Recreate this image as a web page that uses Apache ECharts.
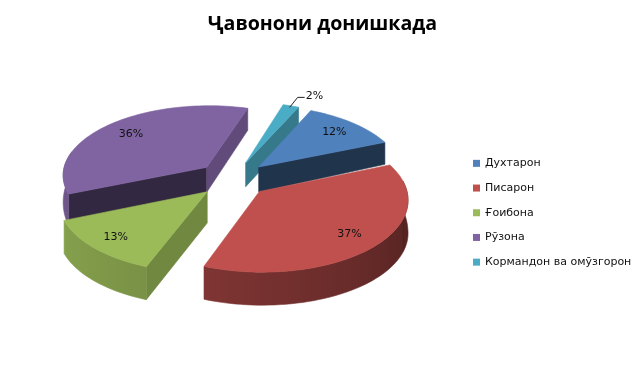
<!DOCTYPE html>
<html><head><meta charset="utf-8">
<style>html,body{margin:0;padding:0;background:#fff}#c{width:640px;height:384px}</style>
<script src="https://cdn.jsdelivr.net/npm/echarts@6/dist/echarts.min.js"></script>
</head><body><div id="c"></div>
<script>
const titleText = 'Ҷавонони донишкада';
const categories = ['Духтарон', 'Писарон', 'Ғоибона', 'Рӯзона', 'Кормандон ва омӯзгорон'];
const shares = [12, 37, 13, 36, 2];
const colors = ['#4F81BD', '#C0504D', '#9BBB59', '#8064A2', '#4BACC6'];

// Projection and style settings (not data)
const view = {cx: 233, cy: 179, a: 145, b: 70, k: 0.1, explode: 0.25, first: 24.5};
const labelFit = [0.79, 0.79, 0.82, 0.77, 0];
const wallRamp = [[0.5, 0.5], [0.37, 0.66], [0.78, 0.86], [0.86, 0.86], [0.7, 0.7]];
const drawOrder = [4, 0, 3, 2, 1];

const total = shares.reduce((s, v) => s + v, 0);
const rad = d => d * Math.PI / 180;
function shade(hex, f) {
  const n = parseInt(hex.slice(1), 16);
  const c = [n >> 16 & 255, n >> 8 & 255, n & 255].map(v => Math.round(Math.min(255, v * f)));
  return 'rgb(' + c.join(',') + ')';
}
function proj(X, Y, low) {
  const f = 1 + view.k * Y;
  const drop = low ? Math.max(22, Math.min(33, 28 - 18 * Y)) : 0;
  return [view.cx + view.a * X / f, view.cy - view.b * Y / f + drop];
}
function render(idx, api) {
  const value = api.value(0);
  let before = 0;
  for (let i = 0; i < idx; i++) before += shares[i];
  const t0 = view.first + before / total * 360;
  const t1 = t0 + value / total * 360;
  const mid = (t0 + t1) / 2;
  const ox = view.explode * Math.sin(rad(mid)), oy = view.explode * Math.cos(rad(mid));
  const rim = (t, r) => [ox + r * Math.sin(rad(t)), oy + r * Math.cos(rad(t))];
  const P = (q, low) => proj(q[0], q[1], low);
  const col = colors[idx];
  const kids = [];
  const poly = (pts, fill) => kids.push({type: 'polygon', shape: {points: pts},
    style: {fill: fill, stroke: fill, lineWidth: 0.6}});
  const apex = [ox, oy];
  const norm = a => ((a % 360) + 360) % 360;
  const cutShade = phi => Math.max(0.38, Math.min(0.85, 0.75 - (phi - 108) * 0.007));
  // cut faces that look toward the viewer
  [[t0, norm(t0 - 90)], [t1, norm(t1 + 90)]].forEach(([t, phi]) => {
    if (phi < 80 || phi > 280) return;
    const e = rim(t, 1);
    poly([P(apex), P(e), P(e, true), P(apex, true)], shade(col, cutShade(phi)));
  });
  // outer wall as one shape with a left-to-right gradient
  const step = 2, angles = [];
  for (let t = t0; t < t1; t += step) angles.push(t);
  angles.push(t1);
  const visible = angles.filter(t => t % 360 >= 80 && t % 360 <= 285);
  if (visible.length > 1) {
    const upper = visible.map(t => P(rim(t, 1)));
    const lower = visible.map(t => P(rim(t, 1), true));
    const r0 = wallRamp[idx][0], r1 = wallRamp[idx][1];
    const samples = visible.map((t, i) => ({x: upper[i][0], f: r0 + (r1 - r0) * (t - t0) / (t1 - t0)}));
    const xs = samples.map(s => s.x), x0 = Math.min(...xs), x1 = Math.max(...xs);
    const stops = samples.slice().sort((p, q) => p.x - q.x)
      .map(s => ({offset: (s.x - x0) / Math.max(x1 - x0, 1), color: shade(col, s.f)}));
    const grad = {type: 'linear', global: true, x: x0, y: 0, x2: x1, y2: 0, colorStops: stops};
    kids.push({type: 'polygon', shape: {points: upper.concat(lower.reverse())},
      style: {fill: grad, stroke: grad, lineWidth: 0.6}});
  }
  // top
  const top = [P(apex)];
  for (let t = t0; t < t1; t += step) top.push(P(rim(t, 1)));
  top.push(P(rim(t1, 1)));
  poly(top, col);
  // label
  const txt = value + '%';
  const font = '11px "DejaVu Sans"';
  if (labelFit[idx] > 0) {
    const p = P(rim(mid, labelFit[idx]));
    kids.push({type: 'text', style: {x: p[0], y: p[1], text: txt, font: font, fill: '#111',
      align: 'center', verticalAlign: 'middle'}});
  } else {
    const p = P(rim(mid, 0.97));
    const q = [p[0] + 8, p[1] - 10], r = [q[0] + 7, q[1]];
    kids.push({type: 'polyline', shape: {points: [p, q, r]}, style: {stroke: '#222', lineWidth: 1, fill: 'none'}});
    kids.push({type: 'text', style: {x: r[0] + 1, y: r[1] - 1, text: txt, font: font, fill: '#111',
      align: 'left', verticalAlign: 'middle'}});
  }
  return {type: 'group', children: kids};
}
const series = categories.map((name, i) => ({
  type: 'custom', name: name, coordinateSystem: 'none',
  z: 2 + drawOrder.indexOf(i),
  itemStyle: {color: colors[i]},
  data: [[shares[i]]],
  renderItem: (params, api) => render(i, api),
  silent: true, animation: false
}));
const chart = echarts.init(document.getElementById('c'), null, {renderer: 'canvas'});
chart.setOption({
  backgroundColor: '#fff',
  animation: false,
  title: {text: titleText, left: 317.5, textAlign: 'center', top: 9,
    textStyle: {fontFamily: 'Open Sans', fontWeight: 'bold', fontSize: 19.6, color: '#000'}},
  legend: {data: categories, orient: 'vertical', left: 473, top: 157, padding: 0, itemWidth: 7, itemHeight: 7,
    itemGap: 12, icon: 'rect', selectedMode: false,
    textStyle: {fontFamily: 'DejaVu Sans', fontSize: 11, color: '#111', height: 12.7, lineHeight: 12.7}},
  series: series
});
</script></body></html>
